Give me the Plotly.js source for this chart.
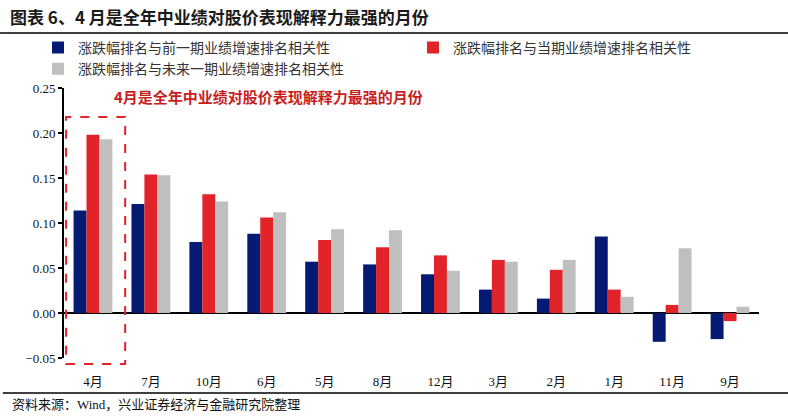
<!DOCTYPE html>
<html>
<head>
<meta charset="utf-8">
<script src="https://cdn.plot.ly/plotly-3.0.1.min.js"></script>
<style>html,body{margin:0;padding:0;background:#fff;}#chart{width:788px;height:419px;}</style>
</head>
<body>
<div id="chart"></div>
<script>
const months = ["4月","7月","10月","6月","5月","8月","12月","3月","2月","1月","11月","9月"];
const prevPeriod = [0.114,0.121,0.079,0.088,0.057,0.054,0.043,0.026,0.016,0.085,-0.032,-0.029];
const currPeriod = [0.198,0.154,0.132,0.106,0.081,0.073,0.064,0.059,0.048,0.026,0.009,-0.009];
const nextPeriod = [0.193,0.153,0.124,0.112,0.093,0.092,0.047,0.057,0.059,0.018,0.072,0.007];
const seriesNames = ["涨跌幅排名与前一期业绩增速排名相关性","涨跌幅排名与当期业绩增速排名相关性","涨跌幅排名与未来一期业绩增速排名相关性"];
const titleText = "图表 6、4 月是全年中业绩对股价表现解释力最强的月份";
const noteText = "4月是全年中业绩对股价表现解释力最强的月份";
const sourceText = "资料来源：Wind，兴业证券经济与金融研究院整理";

const cjk = '"Liberation Serif", "Noto Sans CJK SC", serif';
const colors = ["#041a73", "#e0242a", "#bfbfbf"];
const data = [prevPeriod, currPeriod, nextPeriod].map((v, i) => ({
  type: 'bar', x: months, y: v, name: seriesNames[i],
  marker: {color: colors[i]}
}));

const layout = {
  width: 788, height: 419,
  margin: {l: 64, r: 29, t: 88, b: 61},
  paper_bgcolor: '#fff', plot_bgcolor: '#fff',
  barmode: 'group', bargap: 0.33, bargroupgap: 0,
  showlegend: true,
  legend: {
    orientation: 'h', x: -0.035, y: 1.208, xanchor: 'left', yanchor: 'top',
    entrywidth: 330, entrywidthmode: 'pixels', itemwidth: 30,
    bgcolor: 'rgba(0,0,0,0)',
    font: {family: '"Noto Sans CJK SC", sans-serif', size: 14, color: '#333'},
    traceorder: 'normal', tracegroupgap: 0
  },
  xaxis: {
    type: 'category', showline: false, showgrid: false, zeroline: false,
    ticks: 'outside', ticklen: 11, tickcolor: 'rgba(0,0,0,0)',
    tickfont: {family: cjk, size: 13, color: '#111'}
  },
  yaxis: {
    range: [-0.05, 0.25], dtick: 0.05, tickformat: '.2f',
    showline: true, linecolor: '#000', linewidth: 2,
    ticks: 'outside', ticklen: 4, tickcolor: '#000', tickwidth: 1.5,
    showgrid: false, zeroline: true, zerolinecolor: '#000', zerolinewidth: 2,
    tickfont: {family: cjk, size: 13, color: '#111'}
  },
  shapes: [
    {type: 'line', xref: 'paper', yref: 'paper', x0: -0.092, x1: 1.042, y0: 1.2037, y1: 1.2037, line: {color: '#000', width: 1.5}},
    {type: 'line', xref: 'paper', yref: 'paper', x0: -0.088, x1: 1.042, y0: -0.1296, y1: -0.1296, line: {color: '#000', width: 1.5}},
    {type: 'rect', xref: 'paper', yref: 'paper', x0: 0.003, x1: 0.088, y0: -0.022, y1: 0.893, line: {color: '#e0242a', width: 2, dash: 'dash'}}
  ],
  annotations: [
    {xref: 'paper', yref: 'paper', x: -0.081, y: 1.265, xanchor: 'left', yanchor: 'middle', showarrow: false,
     text: '<b>' + titleText + '</b>', font: {family: '"Noto Sans CJK SC", sans-serif', size: 17, color: '#1a1a1a'}},
    {xref: 'paper', yref: 'paper', x: 0.069, y: 0.967, xanchor: 'left', yanchor: 'middle', showarrow: false,
     text: '<b>' + noteText + '</b>', font: {family: '"Noto Sans CJK SC", sans-serif', size: 15, color: '#c81e1e'}},
    {xref: 'paper', yref: 'paper', x: -0.078, y: -0.174, xanchor: 'left', yanchor: 'middle', showarrow: false,
     text: sourceText, font: {family: cjk, size: 13, color: '#111'}}
  ]
};

Plotly.newPlot('chart', data, layout, {displayModeBar: false, staticPlot: true});
</script>
</body>
</html>
